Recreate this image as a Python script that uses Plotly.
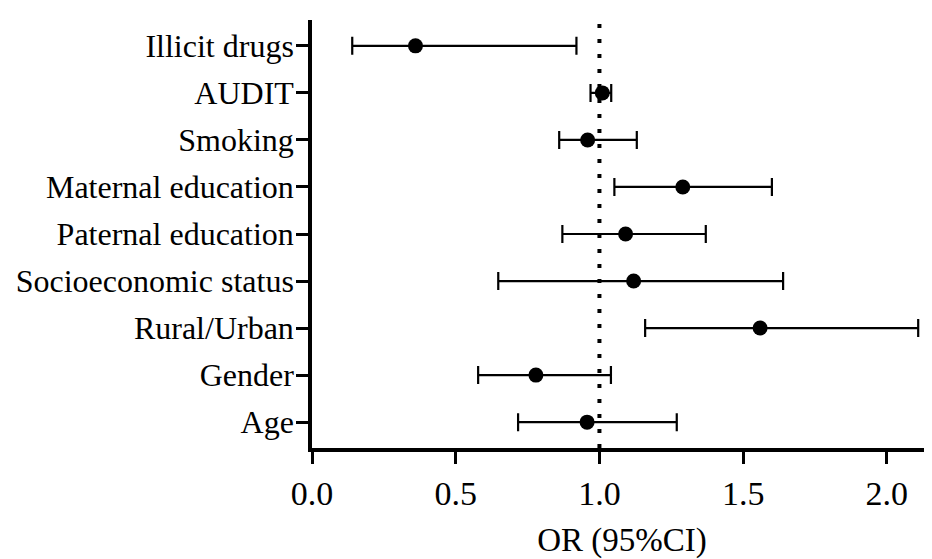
import plotly.graph_objects as go

categories = ["Age", "Gender", "Rural/Urban", "Socioeconomic status",
              "Paternal education", "Maternal education", "Smoking",
              "AUDIT", "Illicit drugs"]
odds_ratio = [0.957, 0.779, 1.559, 1.119, 1.091, 1.290, 0.959, 1.010, 0.360]
ci_low = [0.717, 0.578, 1.159, 0.648, 0.871, 1.052, 0.860, 0.969, 0.140]
ci_high = [1.269, 1.040, 2.109, 1.639, 1.370, 1.600, 1.130, 1.041, 0.920]
x_ticks = [0.0, 0.5, 1.0, 1.5, 2.0]
x_tick_labels = ["0.0", "0.5", "1.0", "1.5", "2.0"]
reference_or = 1.0

ypos = list(range(len(categories)))
plus = [h - o for h, o in zip(ci_high, odds_ratio)]
minus = [o - l for o, l in zip(odds_ratio, ci_low)]

FONT = "Liberation Serif"

fig = go.Figure()
fig.add_vline(x=reference_or, line=dict(color="black", width=4, dash="4px,11px"))
fig.add_trace(go.Scatter(
    x=odds_ratio, y=ypos, mode="markers",
    marker=dict(color="black", size=15, symbol="circle"),
    error_x=dict(type="data", symmetric=False, array=plus, arrayminus=minus,
                 color="black", thickness=2.2, width=9),
    showlegend=False,
))

fig.update_layout(
    width=924, height=551,
    margin=dict(l=304, r=0, t=12, b=107),
    plot_bgcolor="white", paper_bgcolor="white",
    font=dict(family=FONT, color="black", size=32),
    xaxis=dict(range=[0, 2.157], tickvals=x_ticks, ticktext=x_tick_labels,
               showline=True, linecolor="black", linewidth=3.5,
               ticks="outside", ticklen=12, tickwidth=3, tickcolor="black",
               showgrid=False, zeroline=False,
               tickfont=dict(family=FONT, size=34),
               title=dict(text="OR (95%CI)", font=dict(family=FONT, size=33), standoff=24)),
    yaxis=dict(range=[-0.55, 8.55], tickvals=ypos, ticktext=categories,
               showline=True, linecolor="black", linewidth=3.5,
               ticks="outside", ticklen=12, tickwidth=3, tickcolor="black",
               showgrid=False, zeroline=False, ticklabelstandoff=-4,
               tickfont=dict(family=FONT, size=32)),
)

fig.write_html("out.html")
